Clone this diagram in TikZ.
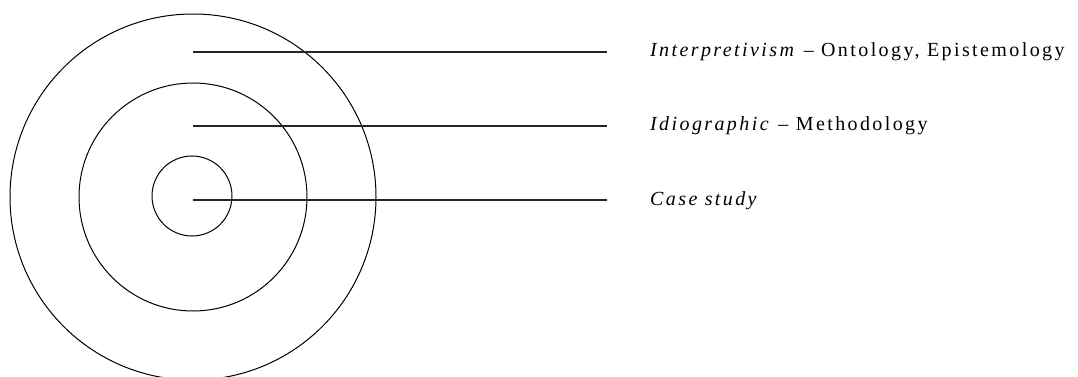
\documentclass[tikz,border=0pt]{standalone}
\usepackage{fontspec}
\setmainfont{Liberation Serif}[LetterSpace=12]
\begin{document}
\begin{tikzpicture}[x=1pt,y=-1pt,
  ring/.style={draw=black,line width=1pt,circle,inner sep=0pt},
  leader/.style={draw=black!85,line width=1.1pt},
  lbl/.style={anchor=base west,inner sep=0pt,font=\fontsize{20}{23}\selectfont}]
\useasboundingbox (0,0) rectangle (1078,377);
\begin{scope}
\clip (0,0) rectangle (1078,377);
\node[ring,minimum size=366pt] (outer) at (193,197) {};
\node[ring,minimum size=228pt] (middle) at (193,197) {};
\node[ring,minimum size=80pt] (inner) at (192,196) {};
\end{scope}
\coordinate (s1) at (193,52);
\coordinate (s2) at (193,126);
\coordinate (s3) at (193,200);
\coordinate (e1) at (607,52);
\coordinate (e2) at (607,126);
\coordinate (e3) at (607,200);
\draw[leader] (s1) -- (e1);
\draw[leader] (s2) -- (e2);
\draw[leader] (s3) -- (e3);
\node[lbl] (t1) at (650,57) {\textit{Interpretivism} – Ontology, Epistemology};
\node[lbl] (t2) at (650,131) {\textit{Idiographic} – Methodology};
\node[lbl] (t3) at (650,205) {\textit{Case study}};
\end{tikzpicture}
\end{document}
